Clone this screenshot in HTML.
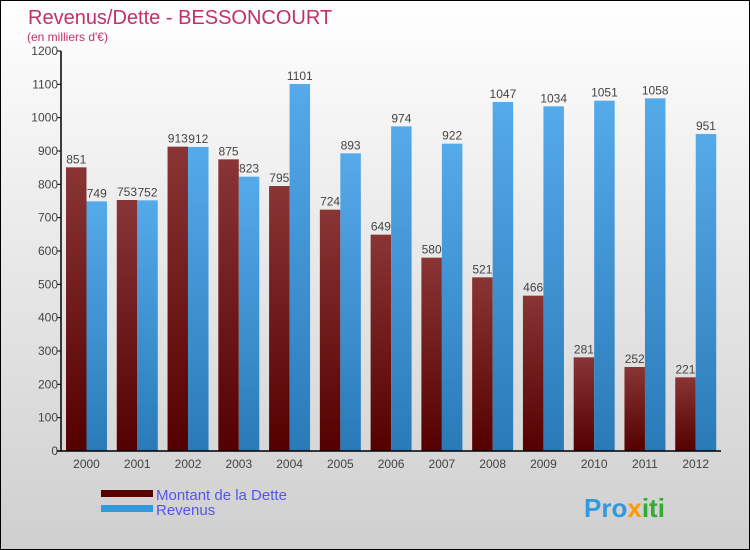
<!DOCTYPE html>
<html><head><meta charset="utf-8"><style>
body{margin:0}
#c{width:750px;height:550px;position:relative;overflow:hidden;box-sizing:border-box;border:1px solid #000;background:linear-gradient(#ffffff,#f0f0f0 30%,#cfcfcf);font-family:"Liberation Sans",sans-serif}
</style></head><body>
<div id="c">
<svg id="s" width="750" height="550" style="position:absolute;left:0;top:0">
<text x="27" y="23" font-size="20" fill="#c0306a">Revenus/Dette - BESSONCOURT</text>
<text x="26" y="40" font-size="12" fill="#c0306a">(en milliers d'€)</text>
<rect x="100" y="489" width="52" height="7" fill="#5a0000"/>
<rect x="100" y="504" width="52" height="7" fill="#3399dd"/>
<text x="155" y="499" font-size="15" fill="#5555ee">Montant de la Dette</text>
<text x="155" y="514" font-size="15" fill="#5555ee">Revenus</text>
<text x="583" y="516" font-size="26" font-weight="bold" fill="#3399dd">Pro<tspan fill="#ff9900">x</tspan><tspan fill="#33aa33">iti</tspan></text>
</svg>
</div>
<script>
const categories=["2000","2001","2002","2003","2004","2005","2006","2007","2008","2009","2010","2011","2012"];
const dette=[851,753,913,875,795,724,649,580,521,466,281,252,221];
const revenus=[749,752,912,823,1101,893,974,922,1047,1034,1051,1058,951];
const yTicks=[0,100,200,300,400,500,600,700,800,900,1000,1100,1200];
const ns="http://www.w3.org/2000/svg";
const s=document.getElementById('s');
const X0=60,X1=720,Y0=450,Y1=50,YMAX=1200;
const step=(X1-X0)/categories.length;
const y=v=>Y0-(v/YMAX)*(Y0-Y1);
const xg=i=>X0+i*step;
function el(t,a){const e=document.createElementNS(ns,t);for(const k in a)e.setAttribute(k,a[k]);s.appendChild(e);return e;}
const defs=el('defs',{});
defs.innerHTML='<linearGradient id="gr" x1="0" y1="0" x2="0" y2="1"><stop offset="0" stop-color="#8a3535"/><stop offset="1" stop-color="#550000"/></linearGradient><linearGradient id="gb" x1="0" y1="0" x2="0" y2="1"><stop offset="0" stop-color="#55aaea"/><stop offset="1" stop-color="#2a7ab8"/></linearGradient>';
yTicks.forEach(v=>{
 const t=el('line',{x1:X0-4,x2:X0,y1:y(v),y2:y(v),stroke:'#000'});
 
 
 const l=el('text',{x:X0-3,y:y(v)+4,'font-size':12,'text-anchor':'end',fill:'#444'});
 l.textContent=v;
 
 
});
categories.forEach((c,i)=>{
 const bx=xg(i)+5,w=20.5;
 const r=el('rect',{x:bx,y:y(dette[i]),width:w,height:Y0-y(dette[i]),fill:'url(#gr)'});
 
 
 const b=el('rect',{x:bx+w,y:y(revenus[i]),width:w,height:Y0-y(revenus[i]),fill:'url(#gb)'});
 
 
 const t1=el('text',{x:bx+w/2,y:y(dette[i])-4,'font-size':12,'text-anchor':'middle',fill:'#444'});
 t1.textContent=dette[i];
 
 
 const t2=el('text',{x:bx+w*1.5,y:y(revenus[i])-4,'font-size':12,'text-anchor':'middle',fill:'#444'});
 t2.textContent=revenus[i];
 
 
 const xl=el('text',{x:bx+w,y:Y0+17,'font-size':12,'text-anchor':'middle',fill:'#444'});
 xl.textContent=c;
 
 
});
const ya=el('line',{x1:X0,x2:X0,y1:Y1,y2:Y0,stroke:'#000','stroke-width':1.5});


const xa=el('line',{x1:X0-4,x2:X1,y1:Y0,y2:Y0,stroke:'#000','stroke-width':1.5});


</script>
</body></html>
